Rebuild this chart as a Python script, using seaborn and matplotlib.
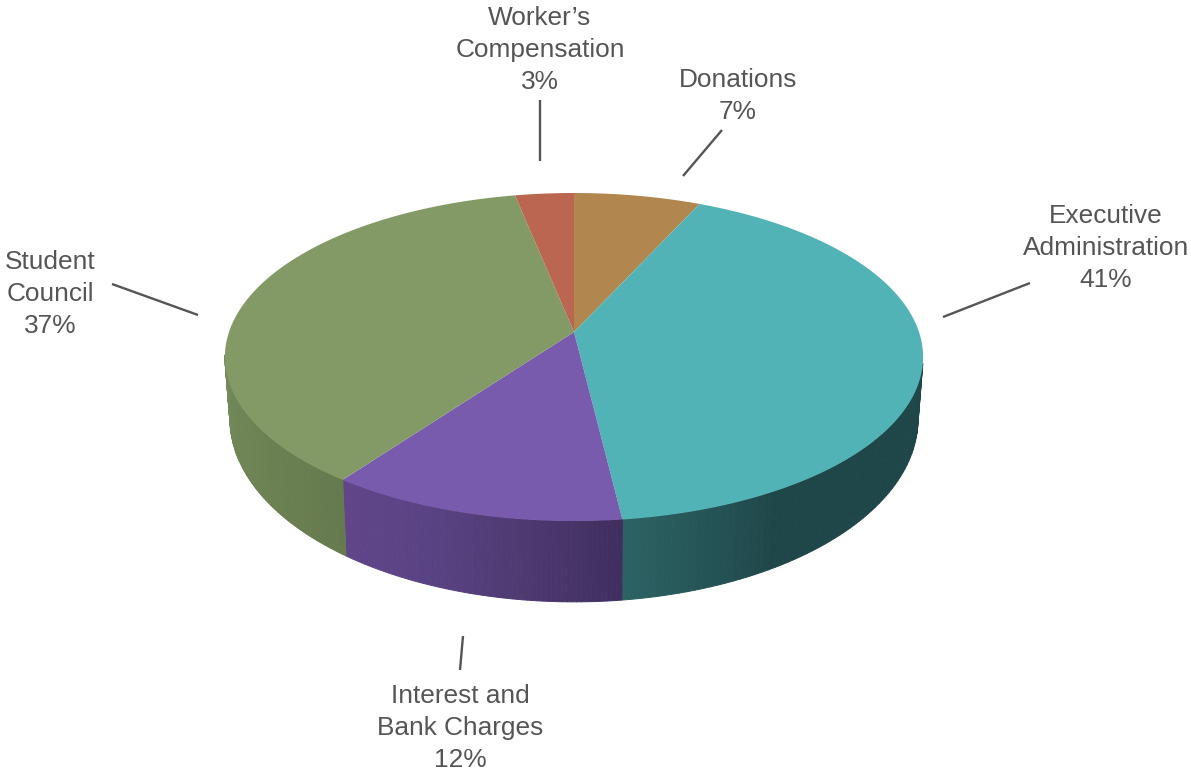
import numpy as np
import matplotlib
matplotlib.use("Agg")
import matplotlib.pyplot as plt
from matplotlib.transforms import Affine2D, Transform
from matplotlib.path import Path
import seaborn as sns

# --- data ---
labels = ["Donations", "Executive\nAdministration", "Interest and\nBank Charges",
          "Student\nCouncil", "Worker\u2019s\nCompensation"]
values = [6.8, 41.3, 11.9, 36.85, 3.15]

# --- styling ---
top_colors = ["#B1874F", "#52B3B7", "#785BAD", "#839A66", "#BA6650"]
# slice index -> (first visible angle, last visible angle, shades along the rim)
wall_stops = {
    1: (101, None, ["#1F4649", "#1F4649", "#1F4649", "#2C6263"]),
    2: (None, None, ["#402E5F", "#4F3A72", "#5A4384", "#604689"]),
    3: (None, 262, ["#667A4F", "#6D8353", "#748A5A"]),
}
text_color = "#555555"
label_xy = [(738, 96), (1106, 248), (460, 728), (50, 294), (540, 50)]
leaders = [((722, 130), (683, 176)), ((1030, 283), (943, 317)), ((463, 636), (460, 670)),
           ((112, 284), (198, 315)), ((540, 100), (540, 161))]


class Tilt(Transform):
    """Puts the unit pie into perspective, result in pixel coordinates."""
    input_dims = 2
    output_dims = 2
    has_inverse = False

    def __init__(self, cx, cy, a, b, k=0.1525):
        super().__init__()
        self.cx, self.cy, self.a, self.b, self.k = cx, cy, a, b, k

    def transform_non_affine(self, pts):
        pts = np.asarray(pts, dtype=float)
        d = 1 + self.k * pts[:, 1]
        return np.column_stack([self.cx + self.a * pts[:, 0] / d,
                                self.cy - self.b * pts[:, 1] / d])

    def transform_path_non_affine(self, path):
        # flatten the curves first, control points do not survive perspective
        big = path.transformed(Affine2D().scale(2000)).to_polygons()[0] / 2000
        return Path(self.transform_non_affine(big), closed=True)


sns.set_theme(style="white")
plt.rcParams["font.family"] = ["Liberation Sans", "DejaVu Sans"]

fig = plt.figure(figsize=(11.91, 7.70), dpi=100)
ax = fig.add_axes([0, 0, 1, 1])

top = Tilt(574, 332, 345, 160.2)
bottom = Tilt(574, 391, 340, 178.7)

# side wall, thin strips with a shade that changes along the rim
edges = 360 * np.cumsum([0] + values) / sum(values)
for i, (start, stop, stops) in wall_stops.items():
    n = 60
    shades = sns.blend_palette(stops, n)
    t0 = edges[i] if start is None else start
    t1 = edges[i + 1] if stop is None else stop
    thetas = np.radians(np.linspace(t0, t1, n + 1))
    rim = np.column_stack([np.sin(thetas), np.cos(thetas)])
    upper = top.transform_non_affine(rim)
    lower = bottom.transform_non_affine(rim)
    for j in range(n):
        quad = np.vstack([upper[j:j + 2], lower[j:j + 2][::-1]])
        ax.fill(quad[:, 0], quad[:, 1], color=shades[j], lw=0.7, zorder=1)

# top face
wedges, _ = ax.pie(values, colors=top_colors, startangle=90, counterclock=False,
                   wedgeprops={"linewidth": 0})
for w in wedges:
    w.set_transform(top + ax.transData)
    w.set_zorder(2)

for (p0, p1) in leaders:
    ax.plot([p0[0], p1[0]], [p0[1], p1[1]], color=text_color, lw=1.7,
            solid_capstyle="butt", zorder=3)

for name, v, (x, y) in zip(labels, values, label_xy):
    ax.text(x, y, f"{name}\n{round(v)}%", ha="center", va="center", fontsize=18.9,
            color=text_color, linespacing=1.42, zorder=4)

ax.set_aspect("auto")
ax.set_xlim(0, 1191)
ax.set_ylim(770, 0)
ax.axis("off")

fig.savefig("out.png", dpi=100)
